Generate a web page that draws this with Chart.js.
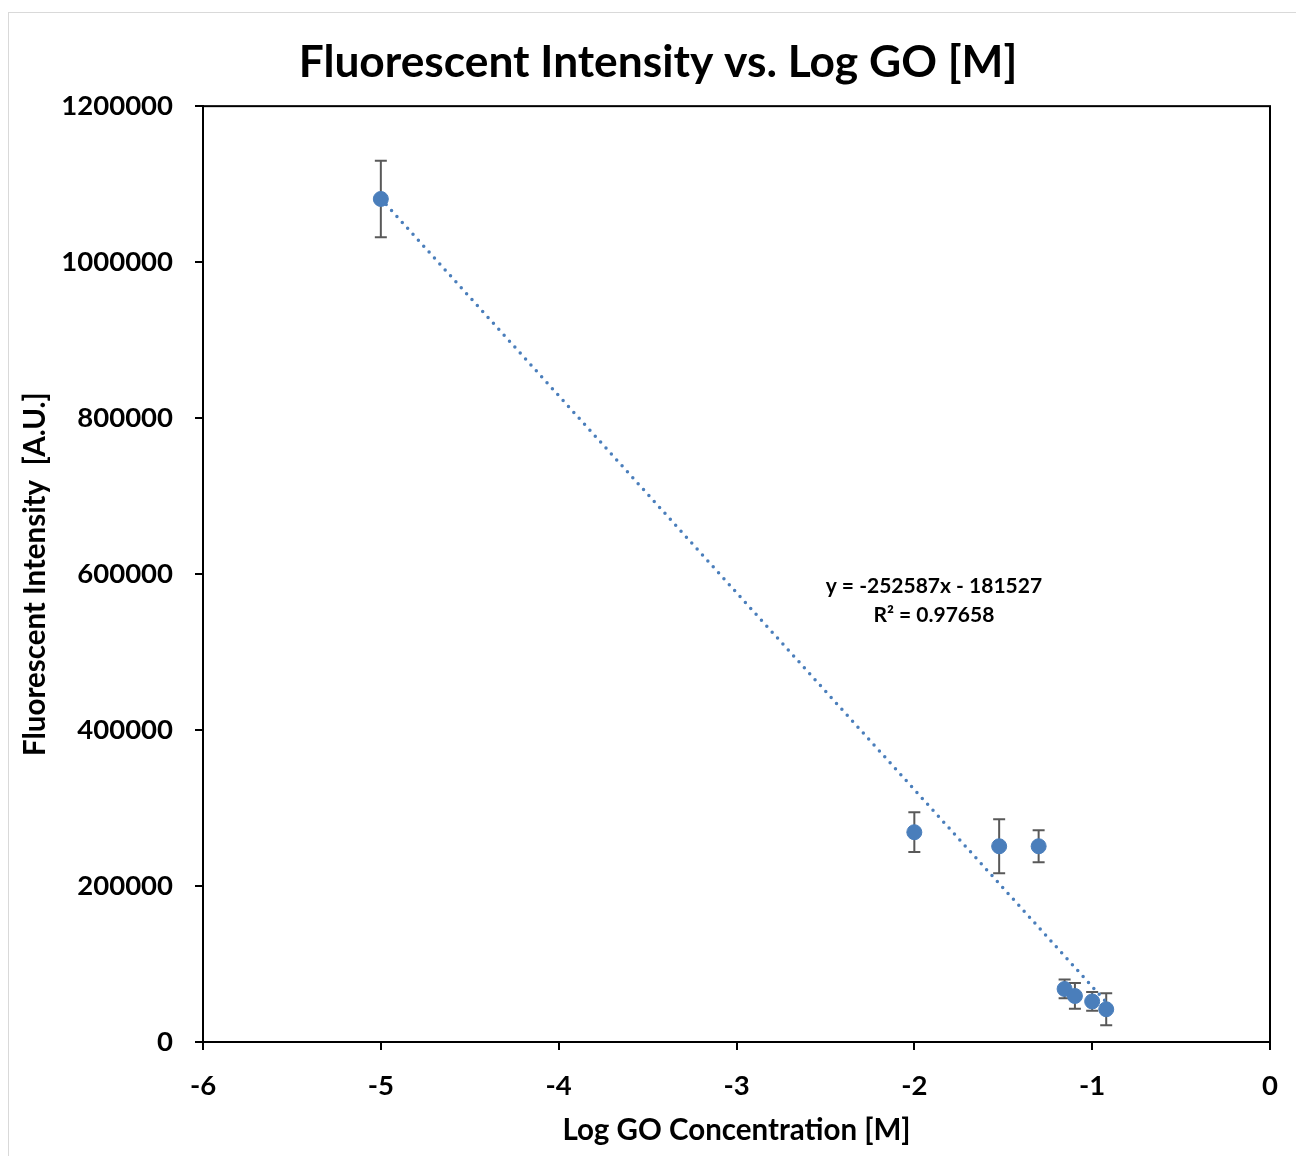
<!DOCTYPE html>
<html>
<head>
<meta charset="utf-8">
<title>Fluorescent Intensity vs. Log GO [M]</title>
<script src="https://cdn.jsdelivr.net/npm/chart.js@4.4.1/dist/chart.umd.min.js"></script>
<style>
  html, body { margin: 0; padding: 0; background: #fff; overflow: hidden; }
  #frame { position: absolute; left: 8px; top: 12px; width: 1320px; height: 1180px; border: 1px solid #d9d9d9; }
  #chart { position: absolute; left: 0; top: 0; }
</style>
</head>
<body>
<div id="frame"></div>
<canvas id="chart" width="1296" height="1156"></canvas>
<script>
// data
const logConc = [-5, -2, -1.523, -1.301, -1.155, -1.097, -1, -0.921];
const intensity = [1081000, 269000, 251000, 251000, 68000, 59000, 52000, 42000];
const errBars = [49000, 25500, 34500, 20500, 12000, 16500, 12000, 20500];

// linear trend line (Excel), endpoints at the data range
const trendX = [-5, -0.921];
const trendY = [1081400, 51100];
const trendText = ['y = -252587x - 181527', 'R² = 0.97658'];
const trendLabelAt = [-1.89, 585000];

const xTicks = [-6, -5, -4, -3, -2, -1, 0];
const yTicks = [0, 200000, 400000, 600000, 800000, 1000000, 1200000];

const blue = '#4a7ebb';
const fontName = 'Lato, "Open Sans", sans-serif';

// error bars + frame + equation, drawn with the chart's own scales
const extras = {
  id: 'extras',
  afterLayout(chart) {
    // the excel title is centred on the whole chart object, a bit right of ours
    if (chart.titleBlock) {
      chart.titleBlock.left += 14;
      chart.titleBlock.right += 14;
    }
  },
  beforeDatasetsDraw(chart) {
    const { ctx } = chart;
    const xs = chart.scales.x, ys = chart.scales.y;
    ctx.save();
    ctx.strokeStyle = '#595959';
    ctx.lineWidth = 2;
    logConc.forEach((x, i) => {
      const px = xs.getPixelForValue(x);
      const top = ys.getPixelForValue(intensity[i] + errBars[i]);
      const bot = ys.getPixelForValue(intensity[i] - errBars[i]);
      ctx.beginPath();
      ctx.moveTo(px, top); ctx.lineTo(px, bot);
      ctx.moveTo(px - 6, top); ctx.lineTo(px + 6, top);
      ctx.moveTo(px - 6, bot); ctx.lineTo(px + 6, bot);
      ctx.stroke();
    });
    ctx.restore();
  },
  afterDraw(chart) {
    const { ctx, chartArea: a } = chart;
    ctx.save();
    ctx.strokeStyle = '#000';
    ctx.lineWidth = 2;
    ctx.strokeRect(a.left, a.top, a.right - a.left, a.bottom - a.top);
    // equation label
    const px = chart.scales.x.getPixelForValue(trendLabelAt[0]);
    const py = chart.scales.y.getPixelForValue(trendLabelAt[1]);
    ctx.fillStyle = '#000';
    ctx.font = 'bold 21px ' + fontName;
    ctx.textAlign = 'center';
    ctx.textBaseline = 'middle';
    ctx.fillText(trendText[0], px, py);
    ctx.fillText(trendText[1], px, py + 29);
    ctx.restore();
  }
};

new Chart(document.getElementById('chart'), {
  type: 'scatter',
  data: {
    datasets: [
      {
        type: 'line',
        label: 'trend',
        data: trendX.map((x, i) => ({ x: x, y: trendY[i] })),
        borderColor: blue,
        borderWidth: 3.5,
        borderDash: [0, 8],
        borderCapStyle: 'round',
        pointRadius: 0,
        fill: false
      },
      {
        label: 'Intensity',
        data: logConc.map((x, i) => ({ x: x, y: intensity[i] })),
        backgroundColor: blue,
        borderColor: blue,
        pointRadius: 7.5,
        pointHoverRadius: 7.5
      }
    ]
  },
  options: {
    responsive: false,
    animation: false,
    layout: { padding: { left: 18, right: 26, top: 0, bottom: 0 } },
    plugins: {
      legend: { display: false },
      tooltip: { enabled: false },
      title: {
        display: true,
        text: 'Fluorescent Intensity vs. Log GO [M]',
        color: '#000',
        font: { family: fontName, size: 44.3, weight: 'bold' },
        padding: { top: 36, bottom: 17 }
      }
    },
    scales: {
      x: {
        type: 'linear',
        min: -6, max: 0,
        afterBuildTicks: s => { s.ticks = xTicks.map(v => ({ value: v })); },
        afterFit: s => { s.height = 114; s.paddingRight = 0; },
        ticks: { color: '#000', padding: 20, font: { family: fontName, size: 27.5, weight: 'bold' } },
        grid: { drawOnChartArea: false, color: '#000', lineWidth: 2, tickLength: 8 },
        border: { color: '#000', width: 2 },
        title: {
          display: true,
          text: 'Log GO Concentration [M]',
          color: '#000',
          font: { family: fontName, size: 29.5, weight: 'bold' },
          padding: { top: 0, bottom: 8 }
        }
      },
      y: {
        min: 0, max: 1200000,
        afterBuildTicks: s => { s.ticks = yTicks.map(v => ({ value: v })); },
        afterFit: s => { s.width = 185; },
        ticks: { color: '#000', padding: 22, callback: v => String(v), font: { family: fontName, size: 27.5, weight: 'bold' } },
        grid: { drawOnChartArea: false, color: '#000', lineWidth: 2, tickLength: 8 },
        border: { color: '#000', width: 2 },
        title: {
          display: true,
          text: 'Fluorescent Intensity  [A.U.]',
          color: '#000',
          font: { family: fontName, size: 29.5, weight: 'bold' },
          padding: { top: 0, bottom: 0 }
        }
      }
    }
  },
  plugins: [extras]
});
</script>
</body>
</html>
